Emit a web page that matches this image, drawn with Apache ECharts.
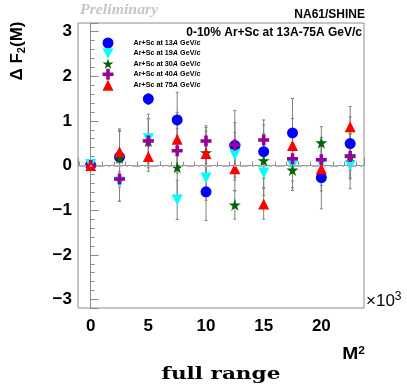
<!DOCTYPE html>
<html>
<head>
<meta charset="utf-8">
<script src="https://cdn.jsdelivr.net/npm/echarts@6/dist/echarts.min.js"></script>
<style>
  html, body { margin: 0; padding: 0; background: #fff; }
  #chart { width: 407px; height: 385px; }
</style>
</head>
<body>
<div id="chart"></div>
<script>
// Bin centres in M^2 (units of GeV^2/c^4)
const binCentres = [0, 2500, 5000, 7500, 10000, 12500, 15000, 17500, 20000, 22500];

// Delta F2(M) and its statistical uncertainty, per beam momentum
const dF2_13 = [0.01, 0.19, 1.49, 1.02, -0.59, 0.45, 0.31, 0.73, -0.27, 0.49];
const err_13 = [0.03, 0.60, 0.12, 0.62, 0.64, 0.78, 0.60, 0.77, 0.70, 0.60];

const dF2_19 = [0.02, -0.37, 0.60, -0.77, -0.28, 0.24, -0.17, 0.00, 0.05, 0.00];
const err_19 = [0.03, 0.43, 0.45, 0.44, 0.50, 0.50, 0.50, 0.50, 0.50, 0.52];

const dF2_30 = [0.00, 0.17, 0.55, -0.04, 0.29, -0.88, 0.11, -0.10, 0.51, 0.22];
const err_30 = [0.03, 0.65, 0.60, 0.70, 0.60, 0.32, 0.60, 0.46, 0.36, 0.50];

const dF2_40 = [0.00, -0.30, 0.55, 0.33, 0.55, 0.46, 0.57, 0.15, 0.13, 0.20];
const err_40 = [0.03, 0.50, 0.50, 0.50, 0.30, 0.50, 0.45, 0.50, 0.50, 0.50];

const dF2_75 = [0.00, 0.31, 0.20, 0.59, 0.27, -0.07, -0.86, 0.45, -0.07, 0.87];
const err_75 = [0.03, 0.45, 0.33, 0.60, 0.50, 0.50, 0.34, 0.60, 0.50, 0.45];

const seriesNames = [
  'Ar+Sc at 13A GeV/c',
  'Ar+Sc at 19A GeV/c',
  'Ar+Sc at 30A GeV/c',
  'Ar+Sc at 40A GeV/c',
  'Ar+Sc at 75A GeV/c'
];

// Tick labels (x axis in units of 10^3)
const xTickLabels = [0, 5, 10, 15, 20];
const yTickLabels = [-3, -2, -1, 0, 1, 2, 3];

// Marker shapes (ROOT-like full circle, down triangle, star, cross, up triangle)
const STAR = 'path://M50,0 L61,35 L98,35 L68,57 L79,91 L50,70 L21,91 L32,57 L2,35 L39,35 Z';
const CROSS = 'path://M34,0 H66 V34 H100 V66 H66 V100 H34 V66 H0 V34 H34 Z';
const DOWN = 'path://M0,0 L100,0 L50,90 Z';

const styles = [
  { color: '#0000ff', symbol: 'circle',   size: 11 },
  { color: '#00ffff', symbol: DOWN,       size: 11 },
  { color: '#006400', symbol: STAR,       size: 12 },
  { color: '#990099', symbol: CROSS,      size: 11 },
  { color: '#ff0000', symbol: 'triangle', size: 11 }
];
const values = [dF2_13, dF2_19, dF2_30, dF2_40, dF2_75];
const errors = [err_13, err_19, err_30, err_40, err_75];

const AXIS_GREY = '#8c8c8c';
const FONT = 'Liberation Sans, Arial, sans-serif';

function errorBars(vals, errs, withZeroLine) {
  const s = {
    type: 'custom',
    silent: true,
    z: 3,
    data: binCentres.map((x, i) => [x, vals[i], errs[i]]),
    encode: { x: 0, y: 1 },
    renderItem(params, api) {
      const x = api.value(0), v = api.value(1), e = api.value(2);
      const hi = api.coord([x, v + e]);
      const lo = api.coord([x, v - e]);
      const cap = 1.5;
      const st = { stroke: '#808080', lineWidth: 1 };
      return {
        type: 'group',
        children: [
          { type: 'line', shape: { x1: hi[0], y1: hi[1], x2: lo[0], y2: lo[1] }, style: st },
          { type: 'line', shape: { x1: hi[0] - cap, y1: hi[1], x2: hi[0] + cap, y2: hi[1] }, style: st },
          { type: 'line', shape: { x1: lo[0] - cap, y1: lo[1], x2: lo[0] + cap, y2: lo[1] }, style: st }
        ]
      };
    }
  };
  if (withZeroLine) {
    s.markLine = {
      silent: true,
      symbol: 'none',
      label: { show: false },
      lineStyle: { color: '#b0b0b0', width: 2, type: [8, 4, 2, 4] },
      data: [{ yAxis: 0 }]
    };
  }
  return s;
}

const series = [];
values.forEach((v, k) => series.push(errorBars(v, errors[k], k === 0)));
values.forEach((v, k) => {
  series.push({
    type: 'scatter',
    name: seriesNames[k],
    z: 4,
    symbol: styles[k].symbol,
    symbolSize: styles[k].size,
    itemStyle: { color: styles[k].color, opacity: 1 },
    data: binCentres.map((x, i) => [x, v[i]])
  });
});

const isTick = (list, v) => list.some(t => Math.abs(t - v) < 1e-6);

const chart = echarts.init(document.getElementById('chart'), null, { renderer: 'canvas' });
chart.setOption({
  animation: false,
  backgroundColor: '#fff',
  grid: {
    left: 78, right: 43, top: 23, bottom: 77,
    show: true, borderColor: AXIS_GREY, borderWidth: 1,
    containLabel: false, outerBoundsMode: 'none'
  },
  xAxis: {
    type: 'value',
    min: -1100, max: 23700, splitNumber: 5,
    axisLine: { show: true, lineStyle: { color: AXIS_GREY, width: 1 } },
    axisTick: { show: true, inside: true, length: 8, lineStyle: { color: AXIS_GREY } },
    minorTick: { show: true, splitNumber: 5, length: 4, lineStyle: { color: AXIS_GREY } },
    splitLine: { show: false },
    axisLabel: {
      margin: 10, color: '#000', fontFamily: FONT, fontWeight: 'bold', fontSize: 17,
      showMinLabel: false, showMaxLabel: false,
      formatter: v => isTick(xTickLabels, v / 1000) ? String(Math.round(v / 1000)) : ''
    }
  },
  yAxis: {
    type: 'value',
    min: -3.19, max: 3.19, splitNumber: 6,
    axisLine: { show: true, lineStyle: { color: AXIS_GREY, width: 1 } },
    axisTick: { show: true, inside: true, length: 8, lineStyle: { color: AXIS_GREY } },
    minorTick: { show: true, splitNumber: 5, length: 4, lineStyle: { color: AXIS_GREY } },
    splitLine: { show: false },
    axisLabel: {
      margin: 6, color: '#000', fontFamily: FONT, fontWeight: 'bold', fontSize: 17,
      showMinLabel: false, showMaxLabel: false,
      formatter: v => {
        if (!isTick(yTickLabels, v)) return '';
        const r = Math.round(v);
        return r < 0 ? '\u2212' + Math.abs(r) : String(r);
      }
    }
  },
  legend: {
    data: seriesNames,
    orient: 'vertical',
    left: 102.5, top: 37.5,
    itemWidth: 11, itemHeight: 11, itemGap: 0,
    padding: 0,
    selectedMode: false,
    formatter: name => name.replace(/(\d+)A GeV\/c/, '$1{i|A} GeV/{i|c}'),
    textStyle: {
      color: '#000', fontFamily: FONT, fontWeight: 'bold', fontSize: 7.2,
      padding: [0, 0, 0, 15],
      rich: { i: { fontStyle: 'italic', fontWeight: 'bold', fontSize: 7.2, fontFamily: FONT, color: '#000' } }
    }
  },
  graphic: [
    {
      type: 'text', x: 80, y: 17, scaleX: 1.13,
      style: { text: 'Preliminary', fill: '#c6c6c6', font: 'italic bold 14px "Liberation Serif", serif', textVerticalAlign: 'bottom' }
    },
    {
      type: 'text', x: 365, y: 14.5,
      style: { text: 'NA61/SHINE', fill: '#000', font: 'bold 12px "Liberation Sans", sans-serif', textAlign: 'right', textVerticalAlign: 'middle' }
    },
    {
      type: 'text', x: 362, y: 32.7,
      style: { text: '0-10% Ar+Sc at 13A-75A GeV/c', fill: '#000', font: 'bold 12px "Liberation Sans", sans-serif', textAlign: 'right', textVerticalAlign: 'middle' }
    },
    {
      type: 'text', x: 17.5, y: 51, rotation: Math.PI / 2,
      style: {
        text: '\u0394 F{sub|2}(M)', fill: '#000',
        font: 'bold 17px "Liberation Sans", sans-serif',
        textAlign: 'center', textVerticalAlign: 'middle',
        rich: { sub: { fontSize: 11, fontWeight: 'bold', fontFamily: FONT, padding: [9, 0, 0, 0] } }
      }
    },
    {
      type: 'text', x: 366, y: 301,
      style: {
        text: '\u00d710{sup|3}', fill: '#000',
        font: '17px "Liberation Sans", sans-serif',
        textVerticalAlign: 'middle',
        rich: { sup: { fontSize: 12, fontFamily: FONT, padding: [0, 0, 9, 0] } }
      }
    },
    {
      type: 'text', x: 365, y: 355, scaleX: 1.2,
      style: {
        text: 'M{sup|2}', fill: '#000',
        font: 'bold 16px "Liberation Sans", sans-serif',
        textAlign: 'right', textVerticalAlign: 'middle',
        rich: { sup: { fontSize: 10, fontWeight: 'bold', fontFamily: FONT, padding: [0, 0, 8, 0] } }
      }
    },
    {
      type: 'text', x: 221, y: 375, scaleX: 1.27,
      style: {
        text: 'full range', fill: '#000',
        font: 'bold 17px "DejaVu Serif", serif',
        textAlign: 'center', textVerticalAlign: 'middle'
      }
    }
  ],
  series: series
});
</script>
</body>
</html>
